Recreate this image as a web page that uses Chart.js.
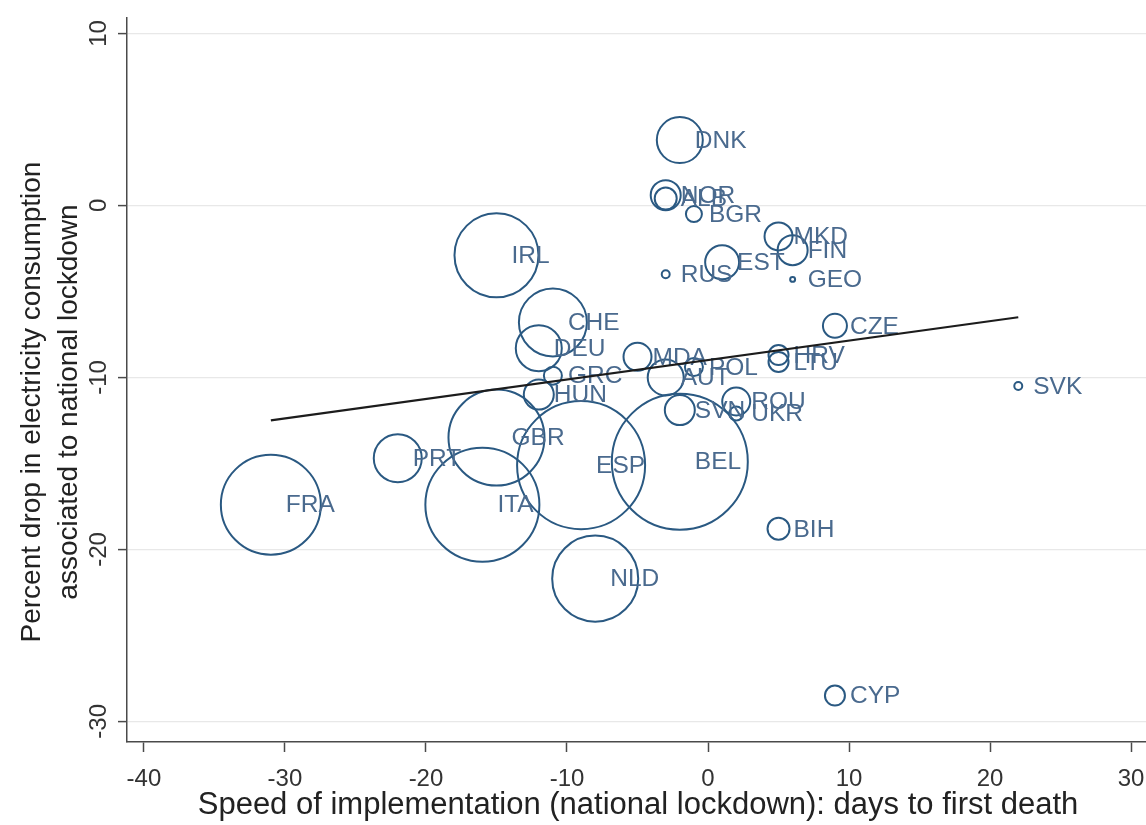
<!DOCTYPE html>
<html>
<head>
<meta charset="utf-8">
<script src="https://cdn.jsdelivr.net/npm/chart.js@4/dist/chart.umd.min.js"></script>
<style>
  html, body { margin: 0; padding: 0; background: #fff; overflow: hidden; }
  #wrap { width: 1146px; height: 825px; overflow: hidden; position: relative; }
  canvas { display: block; }
</style>
</head>
<body>
<div id="wrap"><canvas id="c" width="1180" height="825"></canvas></div>
<script>
// Country codes, lockdown speed (days to first death) and electricity drop (%)
const countries = ['DNK','NOR','ALB','BGR','MKD','FIN','EST','RUS','GEO','CZE','SVK',
  'IRL','CHE','DEU','GRC','HUN','MDA','AUT','POL','HRV','LTU','SVN','ROU','UKR',
  'GBR','PRT','FRA','ITA','ESP','BEL','NLD','BIH','CYP'];
const daysToFirstDeath = [-2, -3, -3, -1, 5, 6, 1, -3, 6, 9, 22,
  -15, -11, -12, -11, -12, -5, -3, -1, 5, 5, -2, 2, 2,
  -15, -22, -31, -16, -9, -2, -8, 5, 9];
const consumptionDrop = [3.8, 0.6, 0.4, -0.5, -1.8, -2.6, -3.3, -4.0, -4.3, -7.0, -10.5,
  -2.9, -6.8, -8.3, -9.9, -11.0, -8.8, -10.0, -9.4, -8.7, -9.1, -11.9, -11.4, -12.1,
  -13.5, -14.7, -17.4, -17.4, -15.1, -14.9, -21.7, -18.8, -28.5];
// Regression weights (marker area)
const markerWeight = [14.7, 6.25, 3.36, 1.78, 5.44, 6.25, 8.0, 0.44, 0.17, 4.0, 0.44,
  49, 32.1, 14.7, 2.25, 6.25, 5.44, 9.0, 2.25, 2.78, 2.78, 6.25, 5.44, 1.36,
  64, 16, 69.4, 90.3, 113.8, 128.4, 51.4, 3.36, 2.78];
// Weighted linear fit, drawn across the observed range
const fitDays = [-31, 22];
const fitDrop = [-12.5, -6.5];
const xTicks = [-40, -30, -20, -10, 0, 10, 20, 30];
const yTicks = [10, 0, -10, -20, -30];

const FONT = '"Liberation Sans", Arial, sans-serif';
const AXIS_COLOR = '#4a4a4a';

// Let the large markers spill past the plot edges instead of shrinking the plot
Chart.BubbleController.prototype.getMaxOverflow = function () { return 0; };

const bubbles = countries.map((c, i) => ({
  x: daysToFirstDeath[i], y: consumptionDrop[i], r: 6 * Math.sqrt(markerWeight[i])
}));
const fitLine = fitDays.map((d, i) => ({ x: d, y: fitDrop[i] }));

// Country codes to the right of each marker, under the fit line
const pointLabels = {
  id: 'pointLabels',
  afterDatasetDraw(chart, args) {
    if (args.index !== 0) return;
    const { ctx, scales: { x, y } } = chart;
    ctx.save();
    ctx.font = '24.5px ' + FONT;
    ctx.fillStyle = '#4a6a8e';
    ctx.textBaseline = 'middle';
    ctx.textAlign = 'left';
    countries.forEach((c, i) => {
      ctx.fillText(c, x.getPixelForValue(daysToFirstDeath[i]) + 15,
                      y.getPixelForValue(consumptionDrop[i]) + 1);
    });
    ctx.restore();
  }
};

// Vertical y tick labels and the axis titles
const axisText = {
  id: 'axisText',
  afterDraw(chart) {
    const { ctx, scales: { y } } = chart;
    ctx.save();
    ctx.fillStyle = '#333';
    ctx.textAlign = 'center';
    ctx.textBaseline = 'middle';
    ctx.font = '24px ' + FONT;
    yTicks.forEach(v => {
      ctx.save();
      ctx.translate(99, y.getPixelForValue(v));
      ctx.rotate(-Math.PI / 2);
      ctx.fillText(String(v), 0, 0);
      ctx.restore();
    });
    ctx.fillStyle = '#222';
    ctx.font = '28px ' + FONT;
    ctx.save();
    ctx.translate(32, 402);
    ctx.rotate(-Math.PI / 2);
    ctx.fillText('Percent drop in electricity consumption', 0, 0);
    ctx.fillText('associated to national lockdown', 0, 37);
    ctx.restore();
    ctx.font = '31px ' + FONT;
    ctx.fillText('Speed of implementation (national lockdown): days to first death', 638, 805);
    ctx.restore();
  }
};

new Chart(document.getElementById('c'), {
  data: {
    datasets: [
      {
        type: 'bubble',
        data: bubbles,
        backgroundColor: 'rgba(0,0,0,0)',
        borderColor: '#2a5982',
        borderWidth: 2,
        hoverRadius: 0,
        order: 1
      },
      {
        type: 'line',
        data: fitLine,
        borderColor: '#1c1c1c',
        borderWidth: 2.2,
        pointRadius: 0,
        fill: false,
        order: 0
      }
    ]
  },
  options: {
    responsive: false,
    animation: false,
    events: [],
    layout: { padding: { left: 0, top: 18, right: 20, bottom: 0 } },
    plugins: { legend: { display: false }, tooltip: { enabled: false } },
    scales: {
      x: {
        type: 'linear',
        min: -41.2,
        max: 32.05,
        afterBuildTicks: s => { s.ticks = xTicks.map(v => ({ value: v })); },
        afterFit: s => { s.height = 83; },
        grid: { drawOnChartArea: false, drawTicks: true, tickLength: 10, tickColor: AXIS_COLOR, tickWidth: 1.5 },
        border: { display: true, color: AXIS_COLOR, width: 1.5 },
        ticks: { autoSkip: false, maxRotation: 0, padding: 13, color: '#333', font: { family: FONT, size: 24 } }
      },
      y: {
        type: 'linear',
        min: -31.2,
        max: 10.9,
        afterBuildTicks: s => { s.ticks = yTicks.map(v => ({ value: v })); },
        afterFit: s => { s.width = 127; },
        grid: { color: '#e8e8e8', lineWidth: 1.2, drawTicks: true, tickLength: 9, tickColor: AXIS_COLOR, tickWidth: 1.5 },
        border: { display: true, color: AXIS_COLOR, width: 1.5 },
        ticks: { display: false }
      }
    }
  },
  plugins: [pointLabels, axisText]
});
</script>
</body>
</html>
